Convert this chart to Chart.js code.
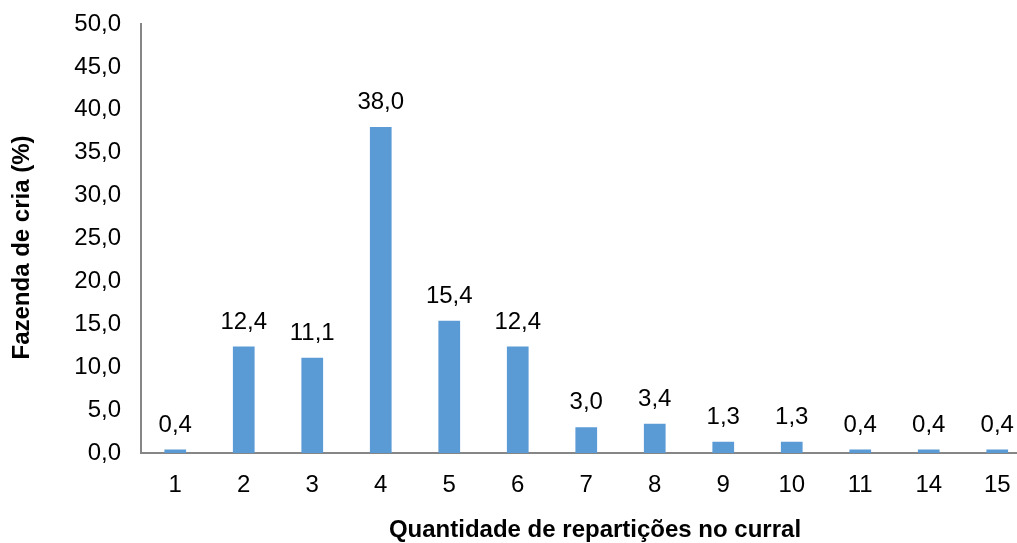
<!DOCTYPE html>
<html>
<head>
<meta charset="utf-8">
<script src="https://cdn.jsdelivr.net/npm/chart.js@4/dist/chart.umd.min.js"></script>
<style>
  html, body { margin: 0; padding: 0; background: #fff; overflow: hidden; }
  #wrap { width: 1017px; height: 543px; overflow: hidden; }
</style>
</head>
<body>
<div id="wrap"><canvas id="c" width="1040" height="543"></canvas></div>
<script>
const categories = ['1', '2', '3', '4', '5', '6', '7', '8', '9', '10', '11', '14', '15'];
const values = [0.4, 12.4, 11.1, 38.0, 15.4, 12.4, 3.0, 3.4, 1.3, 1.3, 0.4, 0.4, 0.4];
const yTitle = 'Fazenda de cria (%)';
const xTitle = 'Quantidade de repartições no curral';

const FONT = '"Liberation Sans", Arial, sans-serif';
const fmt = v => v.toFixed(1).replace('.', ',');

// value labels above each bar, plus the two axis titles
const barLabels = {
  id: 'barLabels',
  afterDatasetsDraw(chart) {
    const ctx = chart.ctx;
    const meta = chart.getDatasetMeta(0);
    const area = chart.chartArea;
    ctx.save();
    ctx.font = '24px ' + FONT;
    ctx.fillStyle = '#000';
    ctx.textAlign = 'center';
    ctx.textBaseline = 'middle';
    meta.data.forEach((bar, i) => {
      ctx.fillText(fmt(values[i]), bar.x, bar.y - 24.5);
    });

    ctx.font = 'bold 24px ' + FONT;
    ctx.fillText(xTitle, 595, 530);
    ctx.translate(22, (area.top + area.bottom) / 2 + 9);
    ctx.rotate(-Math.PI / 2);
    ctx.fillText(yTitle, 0, 0);
    ctx.restore();
  }
};

new Chart(document.getElementById('c'), {
  type: 'bar',
  data: {
    labels: categories,
    datasets: [{
      data: values,
      backgroundColor: '#5B9BD5',
      borderWidth: 0,
      categoryPercentage: 1.0,
      barPercentage: 0.317
    }]
  },
  options: {
    responsive: false,
    animation: false,
    layout: { padding: { top: 24, right: 8.5, left: 8, bottom: 0 } },
    plugins: { legend: { display: false }, tooltip: { enabled: false } },
    scales: {
      x: {
        grid: { display: false, drawTicks: false },
        border: { display: true, color: '#868686', width: 2 },
        ticks: { color: '#000', font: { size: 24, family: FONT }, padding: 18 },
        afterFit(scale) { scale.height = 90; }
      },
      y: {
        min: 0, max: 50,
        grid: { display: false, drawTicks: false },
        border: { display: true, color: '#868686', width: 2 },
        ticks: {
          stepSize: 5, color: '#000', padding: 20,
          font: { size: 24, family: FONT },
          callback: v => fmt(v)
        },
        afterFit(scale) {
          scale.width = 133;
          scale.paddingTop = 0;
          scale.paddingBottom = 0;
        }
      }
    }
  },
  plugins: [barLabels]
});
</script>
</body>
</html>
